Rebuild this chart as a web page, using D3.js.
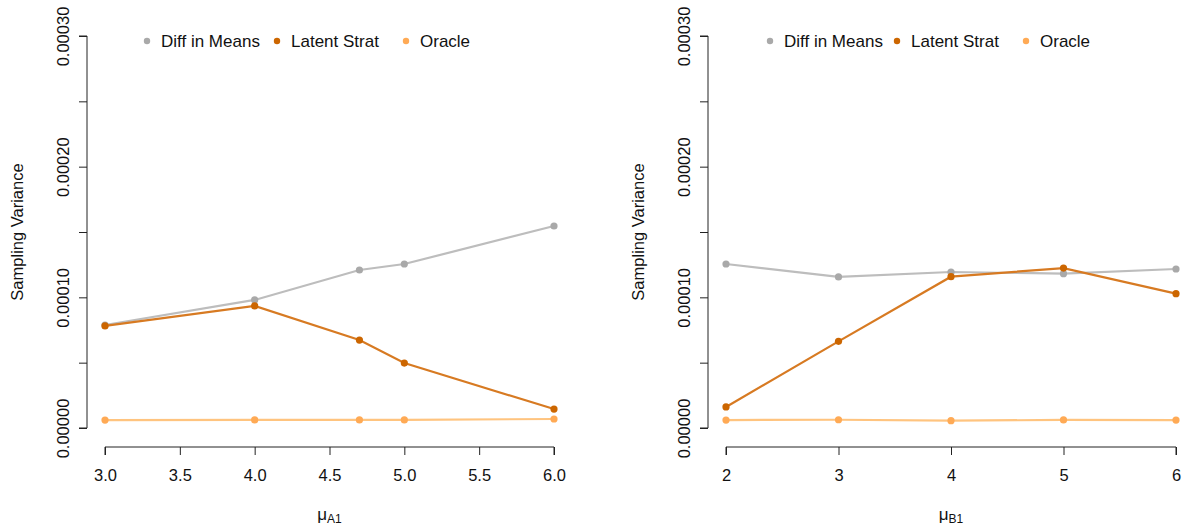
<!DOCTYPE html>
<html>
<head>
<meta charset="utf-8">
<script src="https://cdn.jsdelivr.net/npm/d3@7"></script>
<style>
  body { margin: 0; background: #fff; }
  svg text { font-family: "Liberation Sans", Arial, Helvetica, sans-serif; fill: #111; }
</style>
</head>
<body>
<svg id="chart" width="1186" height="529"></svg>
<script>
// ---- data ----
const seriesNames = ["Diff in Means", "Latent Strat", "Oracle"];
const yTicks = [0, 0.00005, 0.0001, 0.00015, 0.0002, 0.00025, 0.0003];
const yTickLabels = ["0.00000", "", "0.00010", "", "0.00020", "", "0.00030"];

const xA = [3.0, 4.0, 4.7, 5.0, 6.0];
const xATicks = [3.0, 3.5, 4.0, 4.5, 5.0, 5.5, 6.0];
const xATickLabels = ["3.0", "3.5", "4.0", "4.5", "5.0", "5.5", "6.0"];
const diffA   = [0.0000788, 0.0000980, 0.0001209, 0.0001255, 0.0001546];
const latentA = [0.0000781, 0.0000934, 0.0000673, 0.0000497, 0.0000145];
const oracleA = [0.0000061, 0.0000062, 0.0000062, 0.0000062, 0.0000069];

const xB = [2, 3, 4, 5, 6];
const xBTicks = [2, 3, 4, 5, 6];
const xBTickLabels = ["2", "3", "4", "5", "6"];
const diffB   = [0.0001255, 0.0001156, 0.0001194, 0.0001181, 0.0001217];
const latentB = [0.0000161, 0.0000663, 0.0001158, 0.0001224, 0.0001028];
const oracleB = [0.0000061, 0.0000063, 0.0000056, 0.0000062, 0.0000061];

// ---- styles ----
const pointColors = ["#A9A9A9", "#CC6600", "#FFAA55"];
const lineColors  = ["#BDBDBD", "#D77A22", "#FFC47F"];

const svg = d3.select("#chart");

function panel(cfg) {
  const g = svg.append("g");
  const x = d3.scaleLinear().domain(cfg.xDomain).range(cfg.xRange);
  const y = d3.scaleLinear().domain([0, 0.0003]).range([428, 36]);

  // y axis
  const yAxis = d3.axisLeft(y).tickValues(yTicks).tickSize(8).tickFormat((d, i) => yTickLabels[i]);
  const ya = g.append("g").attr("transform", `translate(${cfg.yAxisX},0)`).call(yAxis);
  ya.select(".domain").attr("stroke", "#222").attr("d", `M-8,${y(0)}H0V${y(0.0003)}H-8`);
  ya.selectAll(".tick line").attr("stroke", "#222");
  ya.selectAll(".tick text")
    .attr("font-size", 16.5)
    .attr("x", 0).attr("dy", 0).attr("y", 0)
    .attr("text-anchor", "middle")
    .attr("transform", `translate(-18,0) rotate(-90)`);

  // x axis
  const xAxis = d3.axisBottom(x).tickValues(cfg.xTicks).tickSize(8).tickFormat((d, i) => cfg.xTickLabels[i]);
  const xa = g.append("g").attr("transform", `translate(0,447)`).call(xAxis);
  xa.select(".domain").attr("stroke", "#222").attr("d", `M${x(cfg.xDomain[0])},8V0H${x(cfg.xDomain[1])}V8`);
  xa.selectAll(".tick line").attr("stroke", "#222");
  xa.selectAll(".tick text").attr("font-size", 16.5).attr("y", 22).attr("dy", "0.71em");
  xa.selectAll("text").style("fill", "#111");
  ya.selectAll("text").style("fill", "#111");

  // y label
  g.append("text")
    .attr("transform", `translate(${cfg.yAxisX - 64},${(y(0) + y(0.0003)) / 2}) rotate(-90)`)
    .attr("text-anchor", "middle").attr("font-size", 16.5)
    .text("Sampling Variance");

  // x label
  const xl = g.append("text")
    .attr("x", (x(cfg.xDomain[0]) + x(cfg.xDomain[1])) / 2)
    .attr("y", 520).attr("text-anchor", "middle").attr("font-size", 17);
  xl.append("tspan").text("μ");
  xl.append("tspan").attr("font-size", 12).attr("dy", 3).text(cfg.sub);

  // series
  const seriesData = [cfg.diff, cfg.latent, cfg.oracle];
  const line = d3.line().x(d => x(d[0])).y(d => y(d[1]));
  seriesData.forEach((vals, k) => {
    const pts = cfg.xs.map((xv, i) => [xv, vals[i]]);
    g.append("path").datum(pts).attr("d", line)
      .attr("fill", "none").attr("stroke", lineColors[k]).attr("stroke-width", 2.2);
    g.selectAll(null).data(pts).enter().append("circle")
      .attr("cx", d => x(d[0])).attr("cy", d => y(d[1])).attr("r", 3.6)
      .attr("fill", pointColors[k]);
  });

  // legend
  cfg.legendX.forEach((lx, k) => {
    g.append("circle").attr("cx", lx).attr("cy", 41).attr("r", 3.2).attr("fill", pointColors[k]);
    g.append("text").attr("x", lx + 14).attr("y", 47).attr("font-size", 17).text(seriesNames[k]);
  });
}

panel({
  xDomain: [3, 6], xRange: [105, 554], yAxisX: 87,
  xTicks: xATicks, xTickLabels: xATickLabels, xs: xA,
  diff: diffA, latent: latentA, oracle: oracleA, sub: "A1",
  legendX: [147, 277, 406]
});
panel({
  xDomain: [2, 6], xRange: [726, 1176], yAxisX: 708,
  xTicks: xBTicks, xTickLabels: xBTickLabels, xs: xB,
  diff: diffB, latent: latentB, oracle: oracleB, sub: "B1",
  legendX: [770, 897, 1026]
});
</script>
</body>
</html>
